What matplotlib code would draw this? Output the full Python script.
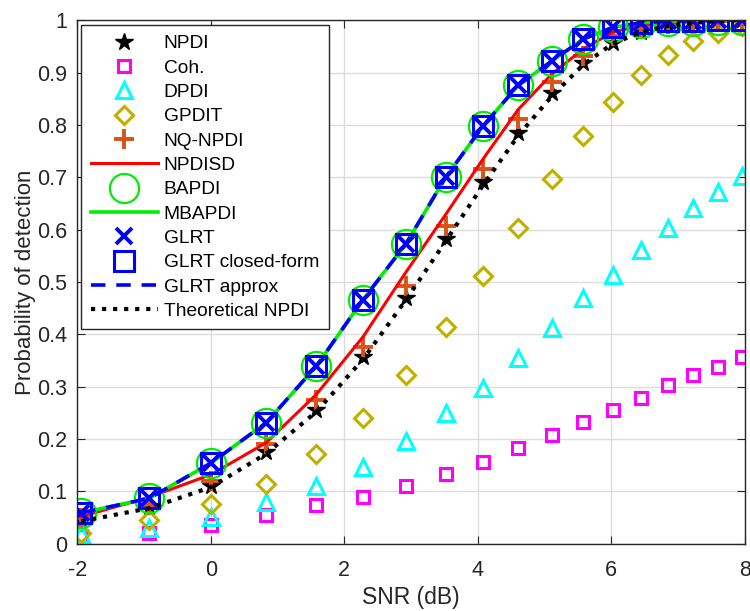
import numpy as np
import matplotlib
matplotlib.use('Agg')
import matplotlib.pyplot as plt
from matplotlib.ticker import FormatStrFormatter

plt.rcParams['font.family'] = ['Liberation Sans', 'DejaVu Sans']
plt.rcParams['axes.unicode_minus'] = False

# SNR sample points (dB)
snr = [-1.94, -0.92, 0.0, 0.83, 1.58, 2.28, 2.92, 3.52, 4.08, 4.61,
       5.11, 5.58, 6.02, 6.44, 6.85, 7.23, 7.60, 7.96]

npdi = [0.045, 0.07, 0.111, 0.176, 0.256, 0.357, 0.47, 0.583, 0.69, 0.785,
        0.86, 0.919, 0.957, 0.978, 0.99, 0.995, 0.998, 1.0]
coh = [0.014, 0.021, 0.036, 0.055, 0.075, 0.09, 0.111, 0.134, 0.156, 0.183,
       0.207, 0.232, 0.256, 0.279, 0.303, 0.323, 0.338, 0.356]
dpdi = [0.019, 0.03, 0.052, 0.079, 0.11, 0.147, 0.196, 0.25, 0.298, 0.355,
        0.412, 0.47, 0.514, 0.562, 0.604, 0.642, 0.672, 0.702]
gpdit = [0.02, 0.046, 0.076, 0.115, 0.172, 0.24, 0.323, 0.414, 0.511, 0.604,
         0.696, 0.779, 0.843, 0.895, 0.933, 0.96, 0.976, 0.989]
nq_npdi = [0.05, 0.075, 0.12, 0.19, 0.275, 0.375, 0.492, 0.607, 0.715, 0.811,
           0.881, 0.932, 0.969, 0.985, 0.993, 0.997, 0.999, 1.0]
npdisd = [0.052, 0.089, 0.132, 0.193, 0.285, 0.395, 0.518, 0.629, 0.735, 0.83,
          0.897, 0.945, 0.977, 0.99, 0.996, 0.998, 0.999, 1.0]
glrt = [0.059, 0.087, 0.154, 0.231, 0.339, 0.466, 0.572, 0.70, 0.798, 0.876,
        0.922, 0.964, 0.986, 0.995, 0.998, 0.999, 1.0, 1.0]
bapdi = glrt
mbapdi = glrt
theo_npdi = [0.043, 0.068, 0.108, 0.172, 0.252, 0.352, 0.465, 0.578, 0.685, 0.78,
             0.855, 0.915, 0.955, 0.977, 0.989, 0.995, 0.998, 1.0]

fig = plt.figure(figsize=(7.5, 6.11), dpi=100)
ax = fig.add_axes([0.103, 0.110, 0.890, 0.857])

ax.plot(snr, npdi, 'k*', ms=13, label='NPDI')
ax.plot(snr, coh, 's', color='#FF00FF', mfc='none', mec='#FF00FF', ms=8, mew=2.2, ls='none', label='Coh.')
ax.plot(snr, dpdi, '^', color='#00FFFF', mfc='none', mec='#00FFFF', ms=12, mew=2.2, ls='none', label='DPDI')
ax.plot(snr, gpdit, 'D', color='#BFB000', mfc='none', mec='#BFB000', ms=9, mew=2.2, ls='none', label='GPDIT')
ax.plot(snr, nq_npdi, '+', color='#D95319', ms=14, mew=2.8, ls='none', label='NQ-NPDI')
ax.plot(snr, npdisd, '-', color='#FF0000', lw=2.2, label='NPDISD')
ax.plot(snr, bapdi, 'o', mfc='none', mec='#00EE00', ms=21, mew=1.6, ls='none', label='BAPDI')
ax.plot(snr, mbapdi, '-', color='#00EE00', lw=2.6, label='MBAPDI')
ax.plot(snr, glrt, 'x', color='#0000FF', ms=11, mew=2.8, ls='none', label='GLRT')
ax.plot(snr, glrt, 's', mfc='none', mec='#0000FF', ms=15, mew=2.2, ls='none', label='GLRT closed-form')
ax.plot(snr, glrt, '--', color='#0000FF', lw=2.6, dashes=(4, 3), label='GLRT approx')
ax.plot(snr, theo_npdi, ':', color='k', lw=3, label='Theoretical NPDI')

ax.set_xlim(-2, 8)
ax.set_ylim(0, 1)
ax.set_xticks([-2, 0, 2, 4, 6, 8])
ax.set_yticks(np.arange(0, 1.01, 0.1))
ax.yaxis.set_major_formatter(FormatStrFormatter('%g'))
ax.grid(True, color='#DCDCDC', lw=1)
ax.set_axisbelow(True)
ax.tick_params(direction='in', top=True, right=True, labelsize=15.5, colors='#262626', length=6)
ax.tick_params(axis='x', pad=12)
ax.tick_params(axis='y', pad=7)
for s in ax.spines.values():
    s.set_color('#262626')
    s.set_linewidth(1)
ax.set_xlabel('SNR (dB)', fontsize=16.5, color='#262626', labelpad=3)
ax.set_ylabel('Probability of detection', fontsize=16, color='#262626', labelpad=1)

leg = ax.legend(loc='upper left', bbox_to_anchor=(0.006, 0.99), borderaxespad=0,
                fontsize=13.8, handlelength=3.5, fancybox=False, framealpha=1,
                edgecolor='#262626', labelspacing=0.36, borderpad=0.5, handletextpad=0.3)
leg.get_frame().set_linewidth(1)

fig.savefig('out.png', dpi=100)
